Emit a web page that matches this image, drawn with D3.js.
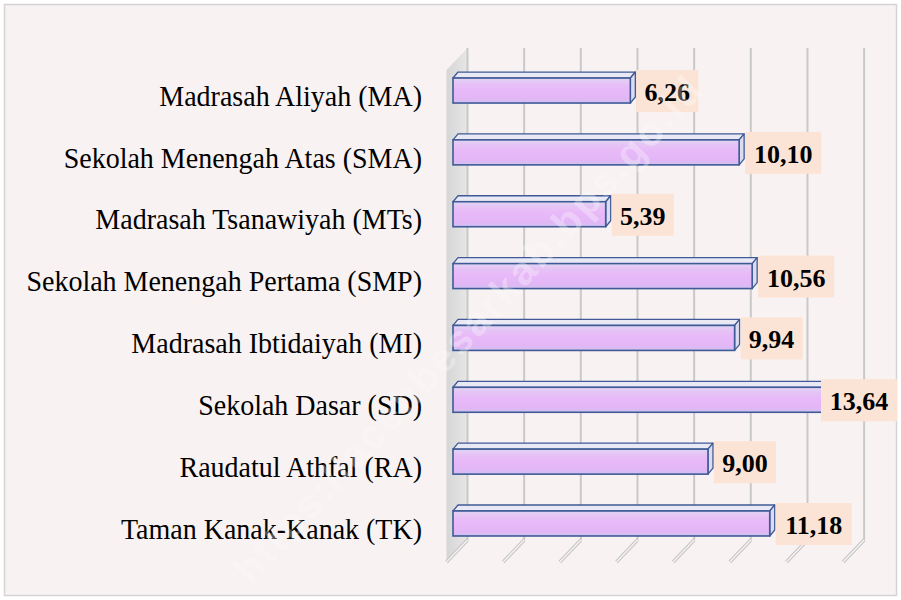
<!DOCTYPE html>
<html>
<head>
<meta charset="utf-8">
<script src="https://cdn.jsdelivr.net/npm/d3@7"></script>
<style>
  body { margin: 0; background: #fff; }
  svg { display: block; }
</style>
</head>
<body>
<div id="app"></div>
<script>
let categories = [
  'Madrasah Aliyah (MA)',
  'Sekolah Menengah Atas (SMA)',
  'Madrasah Tsanawiyah (MTs)',
  'Sekolah Menengah Pertama (SMP)',
  'Madrasah Ibtidaiyah (MI)',
  'Sekolah Dasar (SD)',
  'Raudatul Athfal (RA)',
  'Taman Kanak-Kanak (TK)'
]
let values = [6.26, 10.10, 5.39, 10.56, 9.94, 13.64, 9.00, 11.18]
let tickValues = [0, 2, 4, 6, 8, 10, 12, 14]
let watermark = 'https://acehbesarkab.bps.go.id'

let width = 901
let height = 600

// 3d offsets
let barDx = 5, barDy = 6
let wallDx = 14.5
let floorDx = 21, floorDy = 22
let gridTop = 48, gridBottom = 540
let barH = 25

let fmt = v => d3.format('.2f')(v).replace('.', ',')

const svg = d3.select('#app').append('svg')
  .attr('width', width)
  .attr('height', height)

let defs = svg.append('defs')
let grad = defs.append('linearGradient')
  .attr('id', 'barFront')
  .attr('x1', 0).attr('y1', 0).attr('x2', 0).attr('y2', 1)
grad.append('stop').attr('offset', '0%').attr('stop-color', '#e0d6f2')
grad.append('stop').attr('offset', '22%').attr('stop-color', '#e6c2f6')
grad.append('stop').attr('offset', '45%').attr('stop-color', '#e8b9f8')
grad.append('stop').attr('offset', '82%').attr('stop-color', '#e2b6f5')
grad.append('stop').attr('offset', '100%').attr('stop-color', '#cfc2f0')

let wallGrad = defs.append('linearGradient')
  .attr('id', 'wall')
  .attr('x1', 0).attr('y1', 0).attr('x2', 1).attr('y2', 0)
wallGrad.append('stop').attr('offset', '0%').attr('stop-color', '#d6d6d6')
wallGrad.append('stop').attr('offset', '100%').attr('stop-color', '#e8e6e6')

svg.append('rect')
  .attr('x', 4.5).attr('y', 4.5)
  .attr('width', 892).attr('height', 591)
  .attr('fill', '#f9f2f2')
  .attr('stroke', '#d4d4d4')
  .attr('stroke-width', 1.5)

const x = d3.scaleLinear().domain([0, 14]).range([453, 453 + 14 * 28.33])
const y = d3.scaleBand().domain(categories).range([59.6, 554.4])

// side wall
let x0 = x(0) + wallDx
svg.append('path')
  .attr('d', `M${x0},${gridTop} L${x0},${gridBottom} L${x0 - floorDx},${gridBottom + floorDy} L${x0 - floorDx},${gridTop + floorDy} Z`)
  .attr('fill', 'url(#wall)')

// gridlines on the back wall
svg.append('g')
  .selectAll('line')
  .data(tickValues)
  .enter()
  .append('line')
  .attr('x1', d => x(d) + wallDx)
  .attr('x2', d => x(d) + wallDx)
  .attr('y1', gridTop)
  .attr('y2', gridBottom)
  .attr('stroke', '#c9c9c9')
  .attr('stroke-width', 2)

// floor lines
let floor = svg.append('g')
floor.selectAll('.fo')
  .data(tickValues)
  .enter()
  .append('line')
  .attr('class', 'fo')
  .attr('x1', d => x(d) + wallDx)
  .attr('x2', d => x(d) + wallDx - floorDx)
  .attr('y1', gridBottom)
  .attr('y2', gridBottom + floorDy)
  .attr('stroke', '#c4c4c4')
  .attr('stroke-width', 3.5)
floor.selectAll('.fi')
  .data(tickValues)
  .enter()
  .append('line')
  .attr('class', 'fi')
  .attr('x1', d => x(d) + wallDx)
  .attr('x2', d => x(d) + wallDx - floorDx)
  .attr('y1', gridBottom)
  .attr('y2', gridBottom + floorDy)
  .attr('stroke', '#f6f2f2')
  .attr('stroke-width', 1.5)

// bars
let bars = svg.append('g')
  .selectAll('g')
  .data(categories)
  .enter()
  .append('g')

let barTop = d => y(d) + (y.bandwidth() - barH) / 2

bars.append('path')
  .attr('d', (d, i) => {
    let t = barTop(d), x1 = x(0), x2 = x(values[i])
    return `M${x1},${t} L${x1 + barDx},${t - barDy} L${x2 + barDx},${t - barDy} L${x2},${t} Z`
  })
  .attr('fill', '#e9e9f6')
  .attr('stroke', '#3f5a96')
  .attr('stroke-width', 1.3)
  .attr('stroke-linejoin', 'round')

bars.append('path')
  .attr('d', (d, i) => {
    let t = barTop(d), x2 = x(values[i])
    return `M${x2},${t} L${x2 + barDx},${t - barDy} L${x2 + barDx},${t + barH - barDy} L${x2},${t + barH} Z`
  })
  .attr('fill', '#dcdcf1')
  .attr('stroke', '#3f5a96')
  .attr('stroke-width', 1.3)
  .attr('stroke-linejoin', 'round')

bars.append('rect')
  .attr('x', x(0))
  .attr('y', d => barTop(d))
  .attr('width', (d, i) => x(values[i]) - x(0))
  .attr('height', barH)
  .attr('fill', 'url(#barFront)')
  .attr('stroke', '#3f5a96')
  .attr('stroke-width', 1.6)

// value labels
let boxH = 42
let boxW = (d, i) => fmt(values[i]).length > 4 ? 76 : 62
let labels = bars.append('g')
  .attr('transform', (d, i) => {
    let bx = Math.min(x(values[i]) + barDx + 1, 897 - boxW(d, i))
    return `translate(${bx},${y(d) + y.bandwidth() / 2})`
  })

labels.append('rect')
  .attr('x', 0)
  .attr('y', -boxH / 2 + 0.5)
  .attr('width', boxW)
  .attr('height', boxH)
  .attr('fill', '#fbe4d5')

labels.append('text')
  .attr('x', (d, i) => boxW(d, i) / 2)
  .attr('y', 10.5)
  .attr('text-anchor', 'middle')
  .attr('font-family', '"Liberation Serif", "Times New Roman", serif')
  .attr('font-weight', 'bold')
  .attr('font-size', '26px')
  .attr('fill', '#000')
  .text((d, i) => fmt(values[i]))

// category labels (slightly stretched vertically like the original)
svg.append('g')
  .selectAll('g')
  .data(categories)
  .enter()
  .append('g')
  .attr('transform', d => `translate(422,${y(d) + y.bandwidth() / 2}) scale(1,1.08)`)
  .append('text')
  .attr('x', 0)
  .attr('y', 14)
  .attr('text-anchor', 'end')
  .attr('font-family', '"Liberation Serif", "Times New Roman", serif')
  .attr('font-size', '28px')
  .attr('fill', '#000')
  .text(d => d)

// watermark
svg.append('text')
  .attr('transform', 'translate(470,332) rotate(-47.5)')
  .attr('text-anchor', 'middle')
  .attr('dominant-baseline', 'middle')
  .attr('font-family', '"Liberation Sans", Arial, sans-serif')
  .attr('font-weight', 'bold')
  .attr('font-size', '40px')
  .attr('textLength', 670)
  .attr('fill', '#ffffff')
  .attr('opacity', 0.3)
  .text(watermark)
</script>
</body>
</html>
